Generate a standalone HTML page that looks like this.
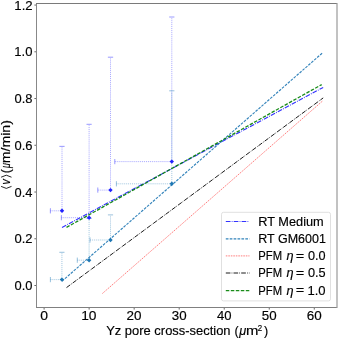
<!DOCTYPE html>
<html><head><meta charset="utf-8"><style>
html,body{margin:0;padding:0;background:#fff;}
svg{display:block;will-change:transform;}
text{font-family:"Liberation Sans",sans-serif;fill:#000;stroke:#000;stroke-width:0.15px;}
</style></head><body>
<svg width="338" height="338" viewBox="0 0 338 338">
<rect width="338" height="338" fill="#fff"/>
<defs><filter id="bl" x="-5%" y="-5%" width="110%" height="110%"><feGaussianBlur stdDeviation="0.3"/></filter></defs>
<g filter="url(#bl)">
<line x1="50.40" y1="210.80" x2="62.00" y2="210.80" stroke="#4444ff" stroke-width="1" stroke-dasharray="1 0.95" opacity="0.45"/>
<line x1="62.00" y1="210.80" x2="62.00" y2="147.40" stroke="#4444ff" stroke-width="1" stroke-dasharray="1 0.95" opacity="0.45"/>
<line x1="50.40" y1="208.20" x2="50.40" y2="213.40" stroke="#4444ff" stroke-width="0.9" opacity="0.6"/>
<line x1="59.40" y1="146.40" x2="64.60" y2="146.40" stroke="#4444ff" stroke-width="0.9" opacity="0.6"/>
<line x1="61.40" y1="217.70" x2="89.10" y2="217.70" stroke="#4444ff" stroke-width="1" stroke-dasharray="1 0.95" opacity="0.45"/>
<line x1="89.10" y1="217.70" x2="89.10" y2="125.30" stroke="#4444ff" stroke-width="1" stroke-dasharray="1 0.95" opacity="0.45"/>
<line x1="61.40" y1="215.10" x2="61.40" y2="220.30" stroke="#4444ff" stroke-width="0.9" opacity="0.6"/>
<line x1="86.50" y1="124.30" x2="91.70" y2="124.30" stroke="#4444ff" stroke-width="0.9" opacity="0.6"/>
<line x1="97.80" y1="190.10" x2="110.50" y2="190.10" stroke="#4444ff" stroke-width="1" stroke-dasharray="1 0.95" opacity="0.45"/>
<line x1="110.50" y1="190.10" x2="110.50" y2="58.20" stroke="#4444ff" stroke-width="1" stroke-dasharray="1 0.95" opacity="0.45"/>
<line x1="97.80" y1="187.50" x2="97.80" y2="192.70" stroke="#4444ff" stroke-width="0.9" opacity="0.6"/>
<line x1="107.90" y1="57.20" x2="113.10" y2="57.20" stroke="#4444ff" stroke-width="0.9" opacity="0.6"/>
<line x1="114.80" y1="161.60" x2="171.80" y2="161.60" stroke="#4444ff" stroke-width="1" stroke-dasharray="1 0.95" opacity="0.45"/>
<line x1="171.80" y1="161.60" x2="171.80" y2="18.00" stroke="#4444ff" stroke-width="1" stroke-dasharray="1 0.95" opacity="0.45"/>
<line x1="114.80" y1="159.00" x2="114.80" y2="164.20" stroke="#4444ff" stroke-width="0.9" opacity="0.6"/>
<line x1="169.20" y1="17.00" x2="174.40" y2="17.00" stroke="#4444ff" stroke-width="0.9" opacity="0.6"/>
<line x1="50.40" y1="279.60" x2="61.90" y2="279.60" stroke="#1f77b4" stroke-width="1" stroke-dasharray="1 0.95" opacity="0.4"/>
<line x1="61.90" y1="279.60" x2="61.90" y2="253.30" stroke="#1f77b4" stroke-width="1" stroke-dasharray="1 0.95" opacity="0.4"/>
<line x1="50.40" y1="277.00" x2="50.40" y2="282.20" stroke="#1f77b4" stroke-width="0.9" opacity="0.5"/>
<line x1="59.30" y1="252.30" x2="64.50" y2="252.30" stroke="#1f77b4" stroke-width="0.9" opacity="0.5"/>
<line x1="77.30" y1="260.20" x2="89.10" y2="260.20" stroke="#1f77b4" stroke-width="1" stroke-dasharray="1 0.95" opacity="0.4"/>
<line x1="89.10" y1="260.20" x2="89.10" y2="219.50" stroke="#1f77b4" stroke-width="1" stroke-dasharray="1 0.95" opacity="0.4"/>
<line x1="77.30" y1="257.60" x2="77.30" y2="262.80" stroke="#1f77b4" stroke-width="0.9" opacity="0.5"/>
<line x1="86.50" y1="218.50" x2="91.70" y2="218.50" stroke="#1f77b4" stroke-width="0.9" opacity="0.5"/>
<line x1="90.00" y1="240.00" x2="110.50" y2="240.00" stroke="#1f77b4" stroke-width="1" stroke-dasharray="1 0.95" opacity="0.4"/>
<line x1="110.50" y1="240.00" x2="110.50" y2="215.90" stroke="#1f77b4" stroke-width="1" stroke-dasharray="1 0.95" opacity="0.4"/>
<line x1="90.00" y1="237.40" x2="90.00" y2="242.60" stroke="#1f77b4" stroke-width="0.9" opacity="0.5"/>
<line x1="107.90" y1="214.90" x2="113.10" y2="214.90" stroke="#1f77b4" stroke-width="0.9" opacity="0.5"/>
<line x1="116.40" y1="183.80" x2="171.80" y2="183.80" stroke="#1f77b4" stroke-width="1" stroke-dasharray="1 0.95" opacity="0.4"/>
<line x1="171.80" y1="183.80" x2="171.80" y2="91.80" stroke="#1f77b4" stroke-width="1" stroke-dasharray="1 0.95" opacity="0.4"/>
<line x1="116.40" y1="181.20" x2="116.40" y2="186.40" stroke="#1f77b4" stroke-width="0.9" opacity="0.5"/>
<line x1="169.20" y1="90.80" x2="174.40" y2="90.80" stroke="#1f77b4" stroke-width="0.9" opacity="0.5"/>
<line x1="62.00" y1="227.40" x2="323.20" y2="87.40" stroke="#0000ff" stroke-width="1.15" stroke-dasharray="4.7 1.2 0.8 1.2" opacity="0.8"/>
<line x1="62.00" y1="281.20" x2="322.70" y2="52.70" stroke="#1f77b4" stroke-width="1.15" stroke-dasharray="2.7 1.2" opacity="0.9"/>
<line x1="102.40" y1="293.50" x2="322.90" y2="100.70" stroke="#ff0000" stroke-width="1.0" stroke-dasharray="1.6 0.9" opacity="0.5"/>
<line x1="66.50" y1="287.60" x2="323.20" y2="97.90" stroke="#000000" stroke-width="1.0" stroke-dasharray="4.65 1.16 0.73 1.16" opacity="0.9"/>
<line x1="66.50" y1="227.40" x2="321.70" y2="84.60" stroke="#008000" stroke-width="1.3" stroke-dasharray="3.5 1.5" opacity="0.9"/>
<path d="M62.00 208.60 L64.20 210.80 L62.00 213.00 L59.80 210.80 Z" fill="#2222ff" opacity="1"/>
<path d="M89.10 215.50 L91.30 217.70 L89.10 219.90 L86.90 217.70 Z" fill="#2222ff" opacity="1"/>
<path d="M110.50 187.90 L112.70 190.10 L110.50 192.30 L108.30 190.10 Z" fill="#2222ff" opacity="1"/>
<path d="M171.80 159.40 L174.00 161.60 L171.80 163.80 L169.60 161.60 Z" fill="#2222ff" opacity="1"/>
<path d="M61.90 277.40 L64.10 279.60 L61.90 281.80 L59.70 279.60 Z" fill="#1f77b4" opacity="1"/>
<path d="M89.10 258.00 L91.30 260.20 L89.10 262.40 L86.90 260.20 Z" fill="#1f77b4" opacity="1"/>
<path d="M110.50 237.80 L112.70 240.00 L110.50 242.20 L108.30 240.00 Z" fill="#1f77b4" opacity="1"/>
<path d="M171.80 181.60 L174.00 183.80 L171.80 186.00 L169.60 183.80 Z" fill="#1f77b4" opacity="1"/>
</g>
<line x1="36.5" y1="3" x2="36.5" y2="308" stroke="#888" stroke-width="1"/>
<line x1="36" y1="3.5" x2="337" y2="3.5" stroke="#7a7a7a" stroke-width="1"/>
<line x1="36" y1="307.5" x2="337" y2="307.5" stroke="#808080" stroke-width="1"/>
<line x1="337.0" y1="3" x2="337.0" y2="308" stroke="#999" stroke-width="1.2"/>
<line x1="44.10" y1="308" x2="44.10" y2="309.6" stroke="#000" stroke-width="0.6"/>
<line x1="89.13" y1="308" x2="89.13" y2="309.6" stroke="#000" stroke-width="0.6"/>
<line x1="134.16" y1="308" x2="134.16" y2="309.6" stroke="#000" stroke-width="0.6"/>
<line x1="179.19" y1="308" x2="179.19" y2="309.6" stroke="#000" stroke-width="0.6"/>
<line x1="224.22" y1="308" x2="224.22" y2="309.6" stroke="#000" stroke-width="0.6"/>
<line x1="269.25" y1="308" x2="269.25" y2="309.6" stroke="#000" stroke-width="0.6"/>
<line x1="314.28" y1="308" x2="314.28" y2="309.6" stroke="#000" stroke-width="0.6"/>
<line x1="36" y1="285.50" x2="34.4" y2="285.50" stroke="#000" stroke-width="0.6"/>
<line x1="36" y1="238.76" x2="34.4" y2="238.76" stroke="#000" stroke-width="0.6"/>
<line x1="36" y1="192.02" x2="34.4" y2="192.02" stroke="#000" stroke-width="0.6"/>
<line x1="36" y1="145.28" x2="34.4" y2="145.28" stroke="#000" stroke-width="0.6"/>
<line x1="36" y1="98.54" x2="34.4" y2="98.54" stroke="#000" stroke-width="0.6"/>
<line x1="36" y1="51.80" x2="34.4" y2="51.80" stroke="#000" stroke-width="0.6"/>
<line x1="36" y1="5.06" x2="34.4" y2="5.06" stroke="#000" stroke-width="0.6"/>
<rect x="221.5" y="212.3" width="109.0" height="88.6" rx="2" ry="2" fill="#fff" fill-opacity="0.8" stroke="#dcdcdc" stroke-width="0.9"/>
<g filter="url(#bl)">
<line x1="225.8" y1="221.5" x2="249.5" y2="221.5" stroke="#0000ff" stroke-width="1.15" stroke-dasharray="4.7 1.2 0.8 1.2" opacity="0.8"/>
<line x1="225.8" y1="238.9" x2="249.5" y2="238.9" stroke="#1f77b4" stroke-width="1.15" stroke-dasharray="2.7 1.2" opacity="0.9"/>
<line x1="225.8" y1="255.9" x2="249.5" y2="255.9" stroke="#ff0000" stroke-width="1.0" stroke-dasharray="1.6 0.9" opacity="0.5"/>
<line x1="225.8" y1="273.0" x2="249.5" y2="273.0" stroke="#000000" stroke-width="1.0" stroke-dasharray="4.65 1.16 0.73 1.16" opacity="0.9"/>
<line x1="225.8" y1="290.7" x2="249.5" y2="290.7" stroke="#008000" stroke-width="1.3" stroke-dasharray="3.5 1.5" opacity="0.9"/>
</g>
<text transform="translate(40.19,320.30) scale(1.0905,1)" font-size="12.8">0</text>
<text transform="translate(81.19,320.30) scale(1.0781,1)" font-size="12.8">10</text>
<text transform="translate(126.59,320.30) scale(1.0518,1)" font-size="12.8">20</text>
<text transform="translate(171.76,320.30) scale(1.0417,1)" font-size="12.8">30</text>
<text transform="translate(217.06,320.30) scale(1.0219,1)" font-size="12.8">40</text>
<text transform="translate(261.82,320.30) scale(1.0417,1)" font-size="12.8">50</text>
<text transform="translate(306.71,320.30) scale(1.0518,1)" font-size="12.8">60</text>
<text transform="translate(14.48,290.00) scale(1.0100,1)" font-size="12.8">0.0</text>
<text transform="translate(14.48,243.26) scale(1.0216,1)" font-size="12.8">0.2</text>
<text transform="translate(14.48,196.52) scale(1.0062,1)" font-size="12.8">0.4</text>
<text transform="translate(14.48,149.78) scale(1.0138,1)" font-size="12.8">0.6</text>
<text transform="translate(14.48,103.04) scale(1.0138,1)" font-size="12.8">0.8</text>
<text transform="translate(14.32,56.30) scale(1.0193,1)" font-size="12.8">1.0</text>
<text transform="translate(14.31,9.56) scale(1.0314,1)" font-size="12.8">1.2</text>
<text transform="translate(258.28,225.60) scale(1.0464,1)" font-size="12.2">RT Medium</text>
<text transform="translate(258.30,242.80) scale(1.0252,1)" font-size="12.2">RT GM6001</text>
<text transform="translate(258.30,260.20) scale(0.9248,1)" font-size="12.2">PFM</text>
<text transform="translate(286.51,260.20) scale(1.0432,1)" font-size="12.2" font-style="italic">η</text>
<text transform="translate(295.87,260.00) scale(1.1999,1)" font-size="12.2">=</text>
<text transform="translate(307.89,260.20) scale(1.0410,1)" font-size="12.2">0.0</text>
<text transform="translate(258.30,277.30) scale(0.9248,1)" font-size="12.2">PFM</text>
<text transform="translate(286.51,277.30) scale(1.0432,1)" font-size="12.2" font-style="italic">η</text>
<text transform="translate(295.87,277.10) scale(1.1999,1)" font-size="12.2">=</text>
<text transform="translate(307.89,277.30) scale(1.0449,1)" font-size="12.2">0.5</text>
<text transform="translate(258.30,294.50) scale(0.9248,1)" font-size="12.2">PFM</text>
<text transform="translate(286.51,294.50) scale(1.0432,1)" font-size="12.2" font-style="italic">η</text>
<text transform="translate(295.87,294.30) scale(1.1999,1)" font-size="12.2">=</text>
<text transform="translate(307.42,294.50) scale(1.0694,1)" font-size="12.2">1.0</text>
<text transform="translate(106.18,334.80) scale(1.0796,1)" font-size="12.0">Yz pore cross-section</text>
<text transform="translate(234.54,334.80) scale(1.0500,1)" font-size="12.0">(</text>
<text transform="translate(239.25,334.80) scale(1.0606,1)" font-size="12.0" font-style="italic">μ</text>
<text transform="translate(246.03,334.80) scale(1.2411,1)" font-size="12.0">m</text>
<text transform="translate(257.80,330.50) scale(0.8791,1)" font-size="9.0">2</text>
<text transform="translate(263.94,334.80) scale(1.0500,1)" font-size="12.0">)</text>
<g transform="translate(9.9,188.7) rotate(-90)"><path d="M2.3 -8.8 L0.3 -3.6 L2.3 1.6" fill="none" stroke="#000" stroke-width="0.85"/>
<text transform="translate(4.32,0.00) scale(0.8844,1)" font-size="12.0" font-style="italic">v</text>
<path d="M11.5 -8.8 L13.5 -3.6 L11.5 1.6" fill="none" stroke="#000" stroke-width="0.85"/>
<text transform="translate(15.38,0.00) scale(1.0000,1)" font-size="12.0">(</text>
<text transform="translate(20.78,0.00) scale(0.7424,1)" font-size="12.0" font-style="italic">μ</text>
<text transform="translate(25.48,0.00) scale(1.1766,1)" font-size="12.0">m/min)</text></g>
</svg>
</body></html>
